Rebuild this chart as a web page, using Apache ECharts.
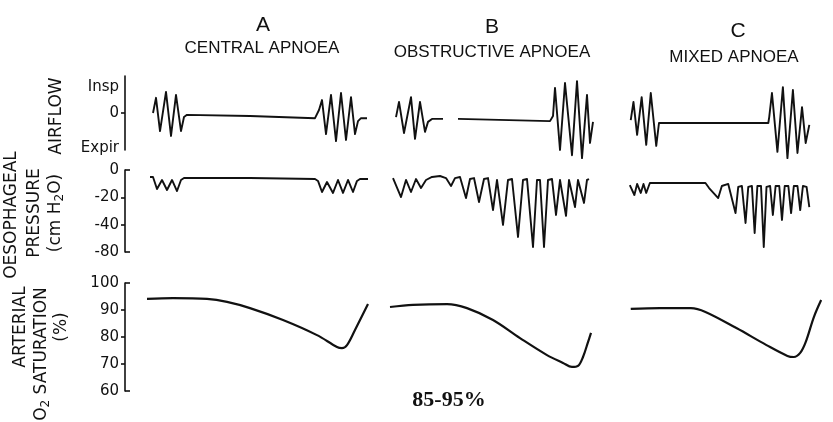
<!DOCTYPE html>
<html><head><meta charset="utf-8">
<script src="https://cdn.jsdelivr.net/npm/echarts@6/dist/echarts.min.js"></script>
<style>html,body{margin:0;padding:0;background:#fff}#c{width:833px;height:422px}</style>
</head><body><div id="c"></div>
<script>
// ---- labels ----
const panelLetters = ['A', 'B', 'C'];
const panelTitles = ['CENTRAL APNOEA', 'OBSTRUCTIVE APNOEA', 'MIXED APNOEA'];
const airflowTicks = ['Insp', '0', 'Expir'];
const airflowTickValues = [0.7, 0, -0.95];
const pressureTicks = ['0', '-20', '-40', '-80'];
const saturationTicks = ['100', '90', '80', '70', '60'];
const noteText = '85-95%';

// ---- A: central apnoea ----
const flowTimeA = [1.4,2.0,2.8,4.0,5.0,6.0,7.0,7.6,8.2,20.8,33.8,34.6,35.2,36.0,37.0,38.0,39.0,40.0,41.0,41.8,42.4,43.0,44.2];
const flowA = [0,0.41,-0.49,0.57,-0.62,0.49,-0.49,-0.11,-0.05,-0.08,-0.14,0.08,0.35,-0.57,0.49,-0.76,0.54,-0.73,0.43,-0.57,-0.22,-0.14,-0.14];
const presTimeA = [0.8,1.4,2.2,3.2,4.2,5.2,6.2,7.0,7.6,20.8,33.8,34.4,35.2,36.2,37.4,38.4,39.4,40.4,41.4,42.2,42.8,44.4];
const presA = [-5.1,-5.1,-13.9,-7.3,-14.6,-7.3,-15.4,-7.3,-5.9,-5.9,-6.6,-8.0,-16.1,-8.8,-16.8,-7.3,-16.8,-7.3,-16.1,-8.0,-6.6,-6.6];
const satTimeA = [0.2,5.4,12.2,16.2,20.8,27.4,34.2,38.2,39.2,40.2,41.8,44.4];
const satA = [94.1,94.4,94.1,93.0,90.7,86.3,80.7,76.3,75.9,77.0,82.6,92.2];

// ---- B: obstructive apnoea ----
const flowTimeB = [1.6,2.2,3.2,4.6,5.4,6.4,7.4,8.0,8.8,11.0,12.5,14.0,32.4,33.0,33.4,34.4,35.4,36.8,37.8,38.8,39.8,40.4,41.0];
const flowB = [-0.11,0.30,-0.54,0.43,-0.70,0.30,-0.51,-0.24,-0.16,-0.16,null,-0.16,-0.22,-0.08,0.68,-1.0,0.81,-1.14,0.86,-1.22,0.49,-0.81,-0.24];
const presTimeB = [1.0,2.6,3.6,4.6,5.6,6.6,7.6,8.8,10.4,11.6,12.6,13.4,14.4,15.6,16.4,17.2,18.2,19.2,20.0,21.0,21.8,22.2,23.0,24.0,24.8,26.0,27.0,27.8,29.0,29.8,30.4,31.2,32.0,32.8,33.6,34.4,34.8,35.6,36.2,36.6,37.4,38.0,38.4,39.2,39.8,40.2];
const presB = [-5.9,-19.8,-7.3,-16.1,-6.6,-13.2,-7.3,-5.1,-4.4,-5.9,-11.7,-5.9,-5.1,-20.5,-6.6,-5.9,-23.4,-6.6,-5.9,-29.3,-7.3,-6.6,-40.4,-7.3,-6.6,-58.0,-7.3,-6.6,-72.6,-7.3,-7.3,-72.6,-7.3,-6.6,-32.9,-7.3,-7.3,-33.6,-7.3,-7.3,-27.1,-7.3,-7.3,-24.1,-7.3,-6.6];
const satTimeB = [0.4,5.0,11.8,15.8,21.0,26.4,31.8,35.0,36.8,38.0,39.0,40.0,40.6];
const satB = [91.1,91.9,92.2,90.7,86.3,79.6,73.3,70.4,68.9,69.3,72.6,78.1,81.5];

// ---- C: mixed apnoea ----
const flowTimeC = [0.6,1.2,2.0,3.0,4.0,5.0,6.2,6.8,7.0,30.8,31.0,31.6,32.8,34.0,35.0,36.2,37.2,38.2,39.0,39.8];
const flowC = [-0.19,0.30,-0.59,0.43,-0.86,0.54,-0.89,-0.27,-0.24,-0.27,-0.11,0.54,-1.05,0.70,-1.22,0.62,-1.08,0.16,-0.81,-0.32];
const presTimeC = [0.4,1.4,2.0,2.8,3.4,4.0,4.8,9.8,17.0,17.8,19.8,20.6,22.0,23.6,24.2,25.0,25.8,26.4,27.2,27.8,28.4,29.2,29.8,30.4,31.2,31.8,32.4,33.2,33.8,34.4,35.2,35.8,36.4,37.2,37.8,38.4,39.2,39.8];
const presC = [-11.0,-18.3,-10.2,-16.8,-10.2,-16.8,-9.5,-9.5,-9.5,-13.2,-20.5,-11.7,-10.2,-31.5,-12.4,-11.7,-38.8,-12.4,-11.7,-52.1,-11.7,-11.7,-72.6,-12.4,-11.7,-32.9,-11.7,-11.7,-36.6,-11.7,-11.7,-31.5,-11.7,-11.7,-29.3,-11.7,-12.4,-27.1];
const satTimeC = [0.6,7.0,13.8,17.0,23.8,30.4,35.0,36.4,37.8,39.0,40.8,42.4];
const satC = [90.4,90.7,90.7,89.3,83.3,77.0,73.0,72.6,74.1,78.1,87.4,93.7];

// pressure axis is drawn with equal spacing 0,-20,-40,-80 (last step is 40 units)
function pressureToAxis(v) { return v >= -40 ? v : -40 + (v + 40) / 2; }
function zip(t, v, f) { return t.map((x, i) => [x, v[i] == null ? null : (f ? f(v[i]) : v[i])]); }

const INK = '#111';
const FONT = '"DejaVu Sans", sans-serif';
const colLeft = [146, 388, 628];
const colWidth = 225;
const rowTop = [76, 170, 283];
const rowHeight = [74, 82, 108];
const axisOffset = 21;

const traces = [
  [[flowTimeA, flowA], [flowTimeB, flowB], [flowTimeC, flowC]],
  [[presTimeA, presA], [presTimeB, presB], [presTimeC, presC]],
  [[satTimeA, satA], [satTimeB, satB], [satTimeC, satC]]
];

const grid = [], xAxis = [], yAxis = [], series = [];
const yCfg = [
  { min: -1, max: 1, tickVals: [0], labelVals: airflowTickValues,
    fmt: v => v > 0.3 ? airflowTicks[0] : (v < -0.3 ? airflowTicks[2] : airflowTicks[1]) },
  { min: -60, max: 0, interval: 20, tickVals: [-20, -40], bracketInterval: 60,
    fmt: v => pressureTicks[Math.round(-v / 20)] },
  { min: 60, max: 100, interval: 10, tickVals: [70, 80, 90], bracketInterval: 40,
    fmt: v => saturationTicks[Math.round((100 - v) / 10)] }
];

for (let r = 0; r < 3; r++) {
  for (let c = 0; c < 3; c++) {
    const i = r * 3 + c;
    grid.push({ left: colLeft[c], width: colWidth, top: rowTop[r], height: rowHeight[r] });
    xAxis.push({ type: 'value', gridIndex: i, min: 0, max: 45, show: false });
    const cfg = yCfg[r];
    const ya = {
      type: 'value', gridIndex: i, min: cfg.min, max: cfg.max, show: c === 0,
      position: 'left', offset: axisOffset,
      axisLine: { show: true, onZero: false, lineStyle: { color: INK, width: 1.6 } },
      axisTick: { show: true, length: 4, customValues: cfg.tickVals, lineStyle: { color: INK, width: 1.6 } },
      axisLabel: { show: true, color: INK, fontSize: 15, fontFamily: FONT, margin: 6, formatter: cfg.fmt },
      splitLine: { show: false }
    };
    if (cfg.interval) ya.interval = cfg.interval;
    if (cfg.labelVals) ya.axisLabel.customValues = cfg.labelVals;
    yAxis.push(ya);
    const tr = traces[r][c];
    series.push({
      type: 'line', xAxisIndex: i, yAxisIndex: i,
      data: zip(tr[0], tr[1], r === 1 ? pressureToAxis : null),
      symbol: 'none', showSymbol: false, connectNulls: false, clip: false, silent: true,
      smooth: r === 2 ? 0.35 : false,
      lineStyle: { color: INK, width: r === 2 ? 2.2 : 1.9, join: 'round' }
    });
  }
}
// bracket ends on pressure and saturation axes
for (let r = 1; r < 3; r++) {
  const cfg = yCfg[r];
  yAxis.push({
    type: 'value', gridIndex: r * 3, min: cfg.min, max: cfg.max, interval: cfg.bracketInterval,
    position: 'left', offset: axisOffset,
    axisLine: { show: false, onZero: false },
    axisTick: { show: true, inside: true, length: 5, lineStyle: { color: INK, width: 1.6 } },
    axisLabel: { show: false }, splitLine: { show: false }
  });
}

function txt(x, y, text, font, rot, rich) {
  const el = { type: 'text', x: x, y: y, rotation: rot || 0, silent: true,
    style: { text: text, font: font, fill: INK, align: 'center', verticalAlign: 'middle' } };
  if (rich) el.style.rich = rich;
  return el;
}
const subRich = {
  n: { font: '17px ' + FONT, fill: INK, lineHeight: 20 },
  s: { font: '12px ' + FONT, fill: INK, lineHeight: 8, verticalAlign: 'bottom' }
};
const letterPos = [[263, 25], [492, 27], [738, 31]];
const titlePos = [[262, 48], [492, 52], [734, 57]];
const graphic = [];
for (let c = 0; c < 3; c++) {
  graphic.push(txt(letterPos[c][0], letterPos[c][1], panelLetters[c], '21px "Liberation Sans", Arial, sans-serif'));
  graphic.push(txt(titlePos[c][0], titlePos[c][1], panelTitles[c], '17px "Liberation Sans", Arial, sans-serif'));
}
const R = Math.PI / 2;
graphic.push(txt(57, 116, 'AIRFLOW', '17px ' + FONT, R));
graphic.push(txt(12, 215, 'OESOPHAGEAL', '17px ' + FONT, R));
graphic.push(txt(35, 213, 'PRESSURE', '17px ' + FONT, R));
graphic.push(txt(56, 213, '{n|(cm H}{s|2}{n|O)}', '17px ' + FONT, R, subRich));
graphic.push(txt(21, 327, 'ARTERIAL', '17px ' + FONT, R));
graphic.push(txt(42, 354, '{n|O}{s|2}{n| SATURATION}', '17px ' + FONT, R, subRich));
graphic.push(txt(62, 327, '(%)', '17px ' + FONT, R));
graphic.push(txt(449, 400, noteText, 'bold 22px "Liberation Serif", serif'));

const chart = echarts.init(document.getElementById('c'), null, { renderer: 'canvas' });
chart.setOption({ animation: false, backgroundColor: '#fff', grid, xAxis, yAxis, series, graphic });
</script>
</body></html>
